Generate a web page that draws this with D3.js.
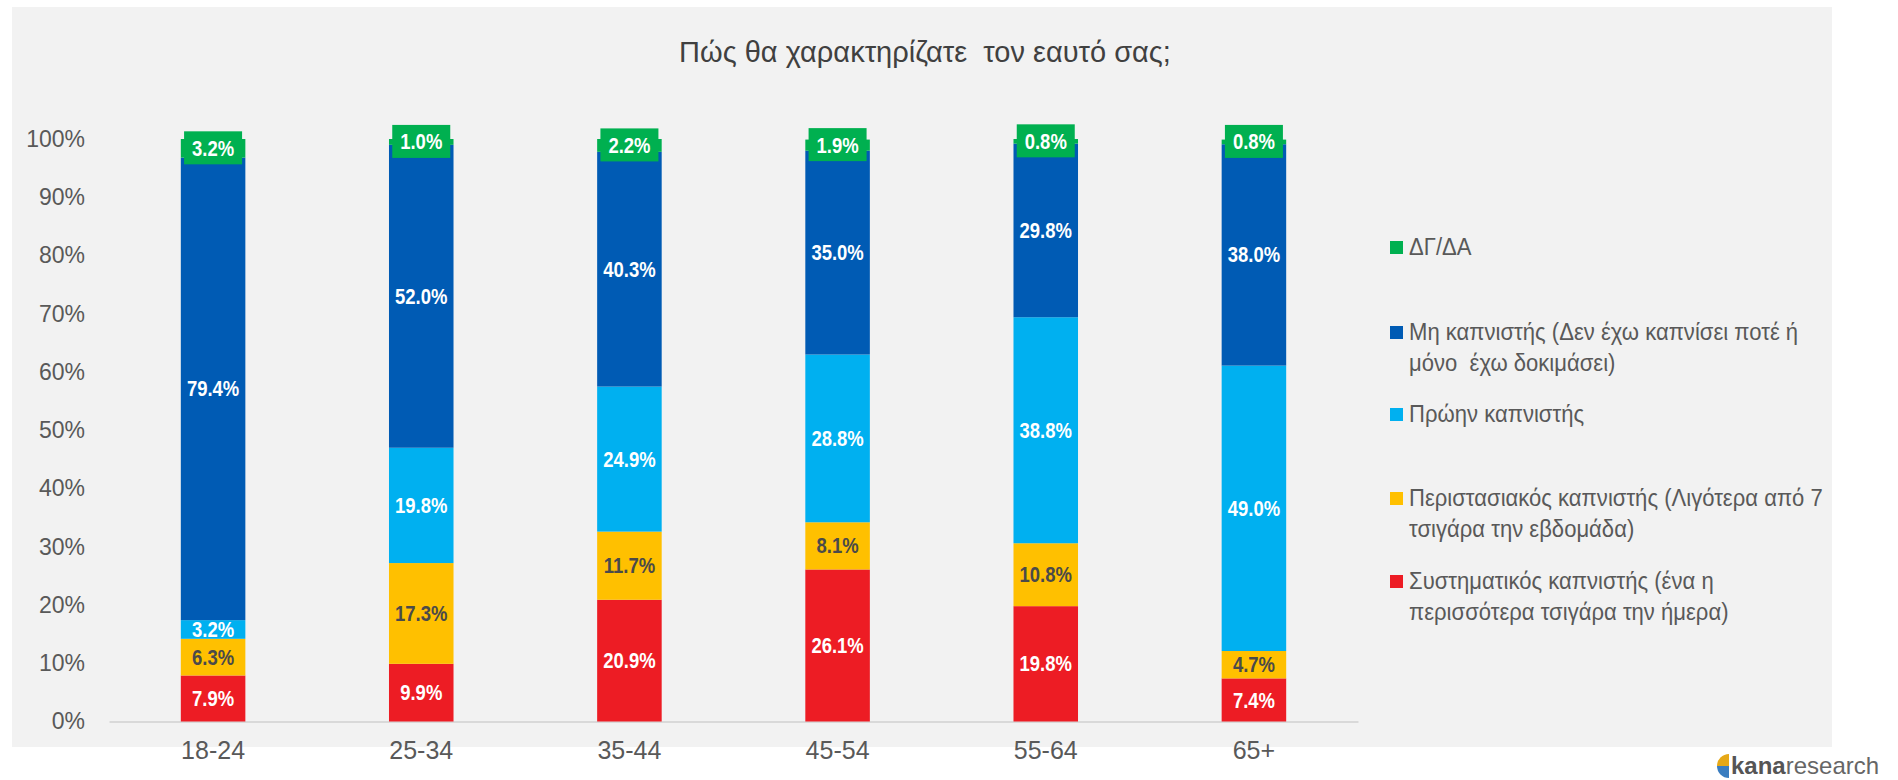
<!DOCTYPE html>
<html>
<head>
<meta charset="utf-8">
<script src="https://cdn.jsdelivr.net/npm/d3@7"></script>
<style>
  html, body { margin: 0; padding: 0; background: #ffffff; }
  svg { display: block; }
</style>
</head>
<body>
<div id="chart"></div>
<script>
// Πώς θα χαρακτηρίζατε τον εαυτό σας; — stacked 100% bars by age group

const ageGroups = ['18-24', '25-34', '35-44', '45-54', '55-64', '65+'];

// bottom → top stacking order
const seriesKeys = ['sys', 'occ', 'former', 'non', 'dk'];
const sysValues    = [7.9, 9.9, 20.9, 26.1, 19.8, 7.4];
const occValues    = [6.3, 17.3, 11.7, 8.1, 10.8, 4.7];
const formerValues = [3.2, 19.8, 24.9, 28.8, 38.8, 49.0];
const nonValues    = [79.4, 52.0, 40.3, 35.0, 29.8, 38.0];
const dkValues     = [3.2, 1.0, 2.2, 1.9, 0.8, 0.8];

const yTicks = [0, 10, 20, 30, 40, 50, 60, 70, 80, 90, 100];

// legend order (top → bottom), each entry's lines as they wrap in the original
const legendKeys = ['dk', 'non', 'former', 'occ', 'sys'];
const legendLines = {
  dk:     ['ΔΓ/ΔΑ'],
  non:    ['Μη καπνιστής (Δεν έχω καπνίσει ποτέ ή', 'μόνο  έχω δοκιμάσει)'],
  former: ['Πρώην καπνιστής'],
  occ:    ['Περιστασιακός καπνιστής (Λιγότερα από 7', 'τσιγάρα την εβδομάδα)'],
  sys:    ['Συστηματικός καπνιστής (ένα η', 'περισσότερα τσιγάρα την ήμερα)'],
};

const COLORS = {
  sys: '#ed1c24', occ: '#ffc000', former: '#00b0f0', non: '#005bb4', dk: '#00b050',
  text: '#595959', title: '#404040', axis: '#d9d9d9', panel: '#f2f2f2',
};

const FONT = '"Liberation Sans", Arial, sans-serif';

const W = 1898, H = 780;

const svg = d3.select('#chart').append('svg')
  .attr('width', W).attr('height', H)
  .style('font-family', FONT);

svg.append('rect').attr('x', 12).attr('y', 7).attr('width', 1820).attr('height', 740)
  .attr('fill', COLORS.panel);

svg.append('text')
  .attr('x', 925).attr('y', 62)
  .attr('text-anchor', 'middle')
  .style('white-space', 'pre')
  .attr('fill', COLORS.title).attr('font-size', 29)
  .text('Πώς θα χαρακτηρίζατε  τον εαυτό σας;');

// ── scales ────────────────────────────────────────────────────────────────
const x = d3.scaleBand().domain(ageGroups).range([109, 1358])
  .paddingInner(0.69).paddingOuter(0.345);
const y = d3.scaleLinear().domain([0, 100]).range([721.5, 139]);

const rows = ageGroups.map((age, i) => ({
  age,
  sys: sysValues[i], occ: occValues[i], former: formerValues[i],
  non: nonValues[i], dk: dkValues[i],
}));
const stacked = d3.stack().keys(seriesKeys)(rows);

// ── axes ──────────────────────────────────────────────────────────────────
svg.append('g')
  .attr('transform', 'translate(85,0)')
  .call(d3.axisLeft(y).tickValues(yTicks).tickSize(0).tickPadding(0).tickFormat(d => d + '%'))
  .call(ax => ax.select('.domain').remove())
  .call(ax => ax.selectAll('text').attr('fill', COLORS.text).attr('font-size', 23)
    .attr('font-family', FONT));

svg.append('g')
  .attr('transform', `translate(0,${y(0)})`)
  .call(d3.axisBottom(x).tickSize(0).tickPadding(20))
  .call(ax => ax.select('.domain').attr('stroke', COLORS.axis).attr('stroke-width', 2))
  .call(ax => ax.selectAll('text').attr('fill', COLORS.text).attr('font-size', 25)
    .attr('font-family', FONT));

// ── bars ──────────────────────────────────────────────────────────────────
const layers = svg.append('g').selectAll('g.layer')
  .data(stacked)
  .join('g')
  .attr('class', 'layer')
  .attr('fill', d => COLORS[d.key]);

layers.selectAll('rect')
  .data(d => d)
  .join('rect')
  .attr('x', d => x(d.data.age))
  .attr('width', x.bandwidth())
  .attr('y', d => y(d[1]))
  .attr('height', d => y(d[0]) - y(d[1]));

// ── data labels (narrow bold, like the original) ─────────────────────────
const labelG = svg.append('g');
stacked.forEach(layer => {
  layer.forEach(d => {
    const cx = x(d.data.age) + x.bandwidth() / 2;
    const cy = y((d[0] + d[1]) / 2);
    if (layer.key === 'dk') {
      labelG.append('rect')
        .attr('x', cx - 29).attr('y', cy - 17)
        .attr('width', 58).attr('height', 33)
        .attr('fill', COLORS.dk);
    }
    labelG.append('text')
      .attr('transform', `translate(${cx},${cy}) scale(0.84,1)`)
      .attr('text-anchor', 'middle')
      .attr('dominant-baseline', 'central')
      .attr('font-size', 22).attr('font-weight', 'bold')
      .attr('fill', layer.key === 'occ' ? '#4a4a4a' : '#ffffff')
      .text(d.data[layer.key].toFixed(1) + '%');
  });
});

// ── legend ────────────────────────────────────────────────────────────────
const legendY = { dk: 247, non: 332, former: 414, occ: 498, sys: 581 };
const legend = svg.append('g');
legendKeys.forEach(k => {
  const ly = legendY[k];
  legend.append('rect')
    .attr('x', 1390).attr('y', ly - 6).attr('width', 13).attr('height', 13)
    .attr('fill', COLORS[k]);
  legendLines[k].forEach((line, j) => {
    legend.append('text')
      .attr('transform', `translate(1409,${ly + j * 31}) scale(0.92,1)`)
      .attr('dominant-baseline', 'central')
      .style('white-space', 'pre')
      .attr('fill', COLORS.text).attr('font-size', 24)
      .text(line);
  });
});

// ── logo ──────────────────────────────────────────────────────────────────
const logo = svg.append('g').attr('transform', 'translate(1729,766)');
const logoArc = d3.arc().innerRadius(0).outerRadius(12);
logo.append('path')
  .attr('d', logoArc({ startAngle: -Math.PI / 2, endAngle: 0 }))
  .attr('fill', '#e6a817');
logo.append('path')
  .attr('d', logoArc({ startAngle: Math.PI, endAngle: Math.PI * 1.5 }))
  .attr('fill', '#3a7dc0');
logo.append('text')
  .attr('x', 2).attr('y', 8)
  .attr('font-family', FONT)
  .attr('font-size', 24).attr('fill', '#555555')
  .call(t => t.append('tspan').attr('font-weight', 'bold').text('kana'))
  .call(t => t.append('tspan').attr('fill', '#666666').text('research'));
</script>
</body>
</html>
